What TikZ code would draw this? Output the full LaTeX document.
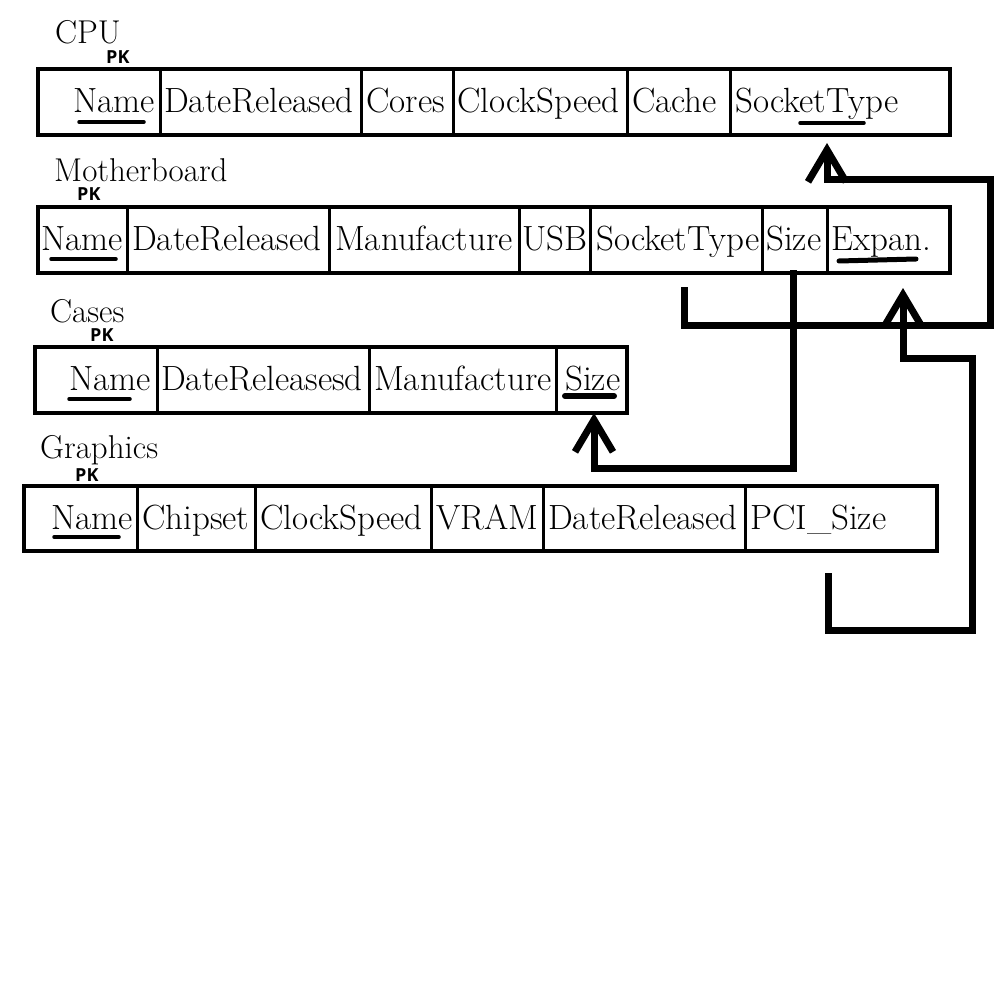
\documentclass[tikz,border=0pt]{standalone}
\usepackage{fontspec}
\newfontfamily\pkfont{Open Sans}
\usetikzlibrary{arrows.meta}
\begin{document}
\begin{tikzpicture}[x=1pt,y=-1pt,
 cell/.style={draw, line width=3pt, minimum height=66pt, inner sep=0pt, outer sep=0pt, anchor=north west},
 frame/.style={draw, line width=4.5pt, inner sep=0pt, outer sep=0pt, anchor=north west},
 lbl/.style={anchor=base west, inner sep=0pt, font=\fontsize{35}{40}\selectfont},
 ttl/.style={anchor=base west, inner sep=0pt, font=\fontsize{33}{38}\selectfont},
 pk/.style={anchor=base west, inner sep=0pt, font=\pkfont\bfseries\fontsize{18}{20}\selectfont},
 ul/.style={line width=3.5pt, line cap=round},
 link/.style={line width=7pt, line join=miter, -{Straight Barb[length=32pt,width=38pt]}}]
\useasboundingbox[fill=white] (0,0) rectangle (1000,1000);

% ---------- CPU ----------
\node[ttl] (tcpu) at (55,44) {CPU};
\node[pk] (pkcpu) at (106,64) {PK};
\node[cell, minimum width=122pt] (c1) at (38,69) {};
\node[cell, minimum width=201pt] (c2) at (160,69) {};
\node[cell, minimum width=92pt]  (c3) at (361,69) {};
\node[cell, minimum width=174pt] (c4) at (453,69) {};
\node[cell, minimum width=103pt] (c5) at (627,69) {};
\node[cell, minimum width=220pt] (c6) at (730,69) {};
\node[frame, minimum width=912pt, minimum height=66pt] (cpu) at (38,69) {};
\node[lbl] (c1t) at (73,113) {Name};
\node[lbl] (c2t) at (164,113) {DateReleased};
\node[lbl] (c3t) at (366,113) {Cores};
\node[lbl] (c4t) at (457,113) {ClockSpeed};
\node[lbl] (c5t) at (632,113) {Cache};
\node[lbl] (c6t) at (735,113) {SocketType};
\draw[ul] (79,122) -- (144,122);
\draw[ul] (800,123) -- (864,123);

% ---------- Motherboard ----------
\node[ttl] (tmb) at (54,182) {Motherboard};
\node[pk] (pkmb) at (77,201) {PK};
\node[cell, minimum width=89pt]  (m1) at (38,207) {};
\node[cell, minimum width=202pt] (m2) at (127,207) {};
\node[cell, minimum width=190pt] (m3) at (329,207) {};
\node[cell, minimum width=71pt]  (m4) at (519,207) {};
\node[cell, minimum width=172pt] (m5) at (590,207) {};
\node[cell, minimum width=65pt]  (m6) at (762,207) {};
\node[cell, minimum width=123pt] (m7) at (827,207) {};
\node[frame, minimum width=912pt, minimum height=66pt] (mb) at (38,207) {};
\node[lbl] (m1t) at (41,251) {Name};
\node[lbl] (m2t) at (132,251) {DateReleased};
\node[lbl] (m3t) at (335,251) {Manufacture};
\node[lbl] (m4t) at (522,251) {USB};
\node[lbl] (m5t) at (596,251) {SocketType};
\node[lbl] (m6t) at (766,251) {Size};
\node[lbl] (m7t) at (831,251) {Expan.};
\draw[ul] (51,259) -- (116,259);
\draw[ul, line width=5pt] (839,261) -- (916,259);

% ---------- Cases ----------
\node[ttl] (tcs) at (50,322) {Cases};
\node[pk] (pkcs) at (90,341) {PK};
\node[cell, minimum width=122pt] (k1) at (35,347) {};
\node[cell, minimum width=212pt] (k2) at (157,347) {};
\node[cell, minimum width=187pt] (k3) at (369,347) {};
\node[cell, minimum width=71pt]  (k4) at (556,347) {};
\node[frame, minimum width=592pt, minimum height=66pt] (cs) at (35,347) {};
\node[lbl] (k1t) at (69,390) {Name};
\node[lbl] (k2t) at (161,390) {DateReleasesd};
\node[lbl] (k3t) at (374,390) {Manufacture};
\node[lbl] (k4t) at (565,390) {Size};
\draw[ul] (69,399) -- (130,399);
\draw[ul, line width=6pt] (565,396) -- (614,396);

% ---------- Graphics ----------
\node[ttl] (tgr) at (40,458) {Graphics};
\node[pk] (pkgr) at (75,481) {PK};
\node[cell, minimum width=113pt, minimum height=65pt] (g1) at (24,486) {};
\node[cell, minimum width=118pt, minimum height=65pt] (g2) at (137,486) {};
\node[cell, minimum width=176pt, minimum height=65pt] (g3) at (255,486) {};
\node[cell, minimum width=112pt, minimum height=65pt] (g4) at (431,486) {};
\node[cell, minimum width=202pt, minimum height=65pt] (g5) at (543,486) {};
\node[cell, minimum width=192pt, minimum height=65pt] (g6) at (745,486) {};
\node[frame, minimum width=913pt, minimum height=65pt] (gr) at (24,486) {};
\node[lbl] (g1t) at (51,529) {Name};
\node[lbl] (g2t) at (142,529) {Chipset};
\node[lbl] (g3t) at (260,529) {ClockSpeed};
\node[lbl] (g4t) at (436,529) {VRAM};
\node[lbl] (g5t) at (548,529) {DateReleased};
\node[lbl] (g6t) at (750,529) {PCI\_Size};
\draw[ul] (54,537) -- (119,537);

% ---------- links ----------
\coordinate (s1) at (684,287);
\coordinate (e1) at (827,143);
\coordinate (s2) at (793,270);
\coordinate (e2) at (594,413);
\coordinate (s3) at (828,573);
\coordinate (e3) at (903,288);
\draw[link] (s1) -- (684,325) -- (990,325) -- (990,180) -- (827,180) -- (e1);
\draw[link] (s2) -- (793,468) -- (594,468) -- (e2);
\draw[link] (s3) -- (828,630) -- (972,630) -- (972,358) -- (903,358) -- (e3);
\end{tikzpicture}
\end{document}
